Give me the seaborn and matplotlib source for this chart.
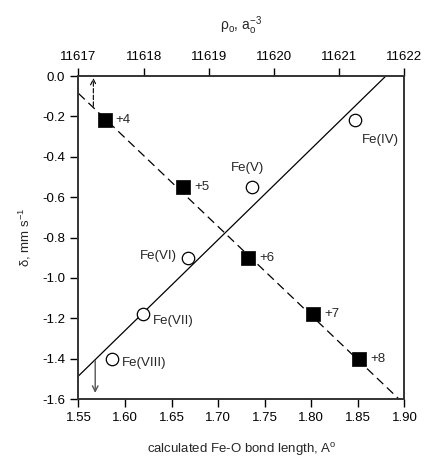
import numpy as np
import pandas as pd
import seaborn as sns
import matplotlib.pyplot as plt

sns.set_style('ticks')
plt.rcParams['font.family'] = ['Liberation Sans', 'DejaVu Sans']
plt.rcParams['mathtext.fontset'] = 'custom'
plt.rcParams['mathtext.rm'] = 'Liberation Sans'
plt.rcParams['mathtext.it'] = 'Liberation Sans'
plt.rcParams['axes.unicode_minus'] = False

# oxidation state points (filled squares)
ox_x = [1.578, 1.662, 1.732, 1.802, 1.851]
ox_y = [-0.22, -0.55, -0.90, -1.18, -1.40]
ox_lab = ['+4', '+5', '+6', '+7', '+8']

# Fe(n) points (open circles)
fe_x = [1.847, 1.736, 1.668, 1.619, 1.586]
fe_y = [-0.22, -0.55, -0.90, -1.18, -1.40]
fe_lab = ['Fe(IV)', 'Fe(V)', 'Fe(VI)', 'Fe(VII)', 'Fe(VIII)']

# fitted lines (end points)
solid_x = [1.55, 1.880]
solid_y = [-1.486, 0.0]
dash_x = [1.55, 1.894]
dash_y = [-0.086, -1.60]

# top axis range
rho_lim = [11617, 11622]

fs = 9.5
df_ox = pd.DataFrame({'x': ox_x, 'y': ox_y})
df_fe = pd.DataFrame({'x': fe_x, 'y': fe_y})

fig = plt.figure(figsize=(4.24, 4.59), dpi=100)
ax = fig.add_axes([0.185, 0.1307, 0.769, 0.7037])

ax.plot(solid_x, solid_y, color='black', lw=0.9)
ax.plot(dash_x, dash_y, color='black', lw=0.9, dashes=(7, 4))

sns.scatterplot(data=df_ox, x='x', y='y', marker='s', s=95, color='black',
                edgecolor='black', linewidth=0.5, ax=ax, zorder=3)
sns.scatterplot(data=df_fe, x='x', y='y', marker='o', s=80, facecolor='white',
                edgecolor='black', linewidth=0.9, ax=ax, zorder=3)

for xx, yy, t in zip(ox_x, ox_y, ox_lab):
    ax.annotate(t, (xx, yy), xytext=(8, 0), textcoords='offset points',
                va='center', ha='left', fontsize=fs)

fe_off = [(5, -14), (-3, 14), (-8, 1), (7, -5), (7, -3)]
fe_ha = ['left', 'center', 'right', 'left', 'left']
for xx, yy, t, o, h in zip(fe_x, fe_y, fe_lab, fe_off, fe_ha):
    ax.annotate(t, (xx, yy), xytext=o, textcoords='offset points',
                va='center', ha=h, fontsize=fs)

# arrows
ax.annotate('', xy=(1.566, -0.01), xytext=(1.566, -0.15),
            arrowprops=dict(arrowstyle='->', color='black', lw=0.8, linestyle=(0, (4, 2)),
                            shrinkA=0, shrinkB=0))
ax.annotate('', xy=(1.568, -1.57), xytext=(1.568, -1.41),
            arrowprops=dict(arrowstyle='->', color='#555555', lw=1.0,
                            shrinkA=0, shrinkB=0))

ax.set_xlim(1.55, 1.90)
ax.set_ylim(-1.6, 0.0)
ax.set_xticks(np.arange(1.55, 1.901, 0.05))
ax.set_yticks(np.round(np.arange(-1.6, 0.01, 0.2), 1) + 0.0)
ax.set_yticklabels(['%.1f' % v if abs(v) > 1e-9 else '0.0' for v in np.arange(-1.6, 0.01, 0.2)])
ax.xaxis.set_major_formatter(plt.FormatStrFormatter('%.2f'))
ax.set_xlabel('calculated Fe-O bond length, A$^{\\mathrm{o}}$', fontsize=fs, labelpad=12)
ax.set_ylabel('δ, mm s$^{\\mathrm{-1}}$', fontsize=fs, labelpad=7)
ax.tick_params(direction='out', length=6, width=1.0, labelsize=fs, colors='black')

for s in ax.spines.values():
    s.set_visible(True)
    s.set_linewidth(1.2)
    s.set_color('#333333')

ax2 = ax.twiny()
ax2.set_xlim(rho_lim)
ax2.set_xticks(np.arange(11617, 11623, 1))
ax2.tick_params(direction='out', length=6, width=1.0, labelsize=fs, colors='black')
ax2.set_xlabel('ρ$_{\\mathrm{o}}$, a$_{\\mathrm{o}}^{\\mathrm{-3}}$', fontsize=fs + 0.5, labelpad=15)
for s in ax2.spines.values():
    s.set_linewidth(1.2)
    s.set_color('#333333')

fig.savefig('out.png', dpi=100)
